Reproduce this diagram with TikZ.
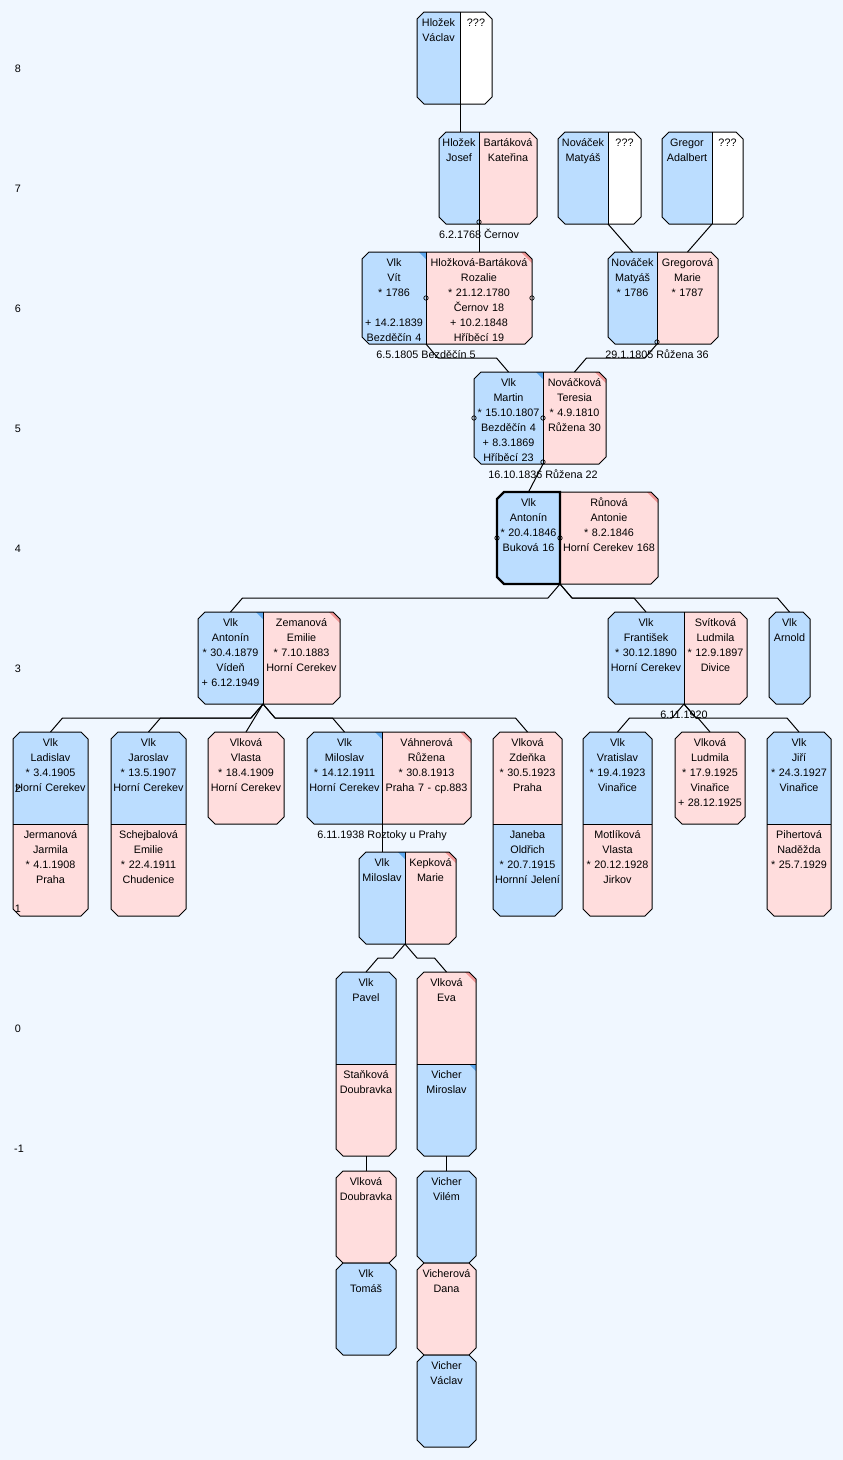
\documentclass[tikz,border=0pt]{standalone}
\usepackage{fontspec}
\setmainfont{Liberation Sans}
\usetikzlibrary{calc}
\definecolor{bgc}{RGB}{240,247,255}
\definecolor{bluec}{RGB}{187,221,255}
\definecolor{pinkc}{RGB}{255,221,221}
\definecolor{mkb}{RGB}{95,168,238}
\definecolor{mkr}{RGB}{240,150,150}
\tikzset{
 oct/.style n args={4}{insert path={(#1+7,#2) -- (#3-7,#2) -- (#3,#2+7) -- (#3,#4-7) -- (#3-7,#4) -- (#1+7,#4) -- (#1,#4-7) -- (#1,#2+7) -- cycle}},
 outl/.style={draw=black, line width=1pt},
 conn/.style={draw=black, line width=1pt},
 person/.style={inner sep=0pt, outer sep=0pt, align=center, text height=14pt, font=\fontsize{10.8}{15}\selectfont, anchor=north west},
 lbl/.style={inner sep=0pt, font=\fontsize{10.8}{15}\selectfont, anchor=base},
 ringmark/.style={draw=black, line width=0.7pt},
}
\newcommand\pcell[7]{\pgfmathsetmacro\cw{#4-#2}\pgfmathsetmacro\cd{#5-#3-14}\node[person, fill=#6, text width=\cw pt, text depth=\cd pt] (#1) at (#2,#3) {#7};}
\newcommand\octbox[5]{\begin{scope}\clip[oct={#1}{#2}{#3}{#4}]; #5 \end{scope}\draw[outl,oct={#1}{#2}{#3}{#4}];}
\newcommand\vdiv[1]{\draw[outl] (#1.north east) -- (#1.south east);}
\newcommand\hdiv[1]{\draw[outl] (#1.south west) -- (#1.south east);}
\newcommand\cornermark[3]{\fill[#2] (#1.north east) -- ++(-#3,0) -- ++(#3,#3) -- cycle;}
\newcommand\kidL[2]{\draw[conn] (#1) -- ++(-12,14) -- ($(#2)+(12,-14)$) -- (#2);}
\newcommand\kidR[2]{\draw[conn] (#1) -- ++(12,14) -- ($(#2)+(-12,-14)$) -- (#2);}
\newcommand\kidS[2]{\draw[conn] (#1) -- (#2);}
\newcommand\ring[1]{\draw[ringmark] (#1) circle[radius=2.2];}
\newcommand\bd{{*}}
\begin{document}
\begin{tikzpicture}[x=1pt,y=-1pt]
\useasboundingbox (0,0) rectangle (843,1460);
\fill[bgc] (0,0) rectangle (843,1460);

% level 8
\octbox{417}{12}{492}{104}{
 \pcell{vaclav}{417}{12}{460}{104}{bluec}{Hložek\\Václav}
 \pcell{unka}{460}{12}{492}{104}{white}{???}
 \vdiv{vaclav}}
% level 7
\octbox{439}{132}{537}{224}{
 \pcell{josef}{439}{132}{479}{224}{bluec}{Hložek\\Josef}
 \pcell{katerina}{479}{132}{537}{224}{pinkc}{Bartáková\\Kateřina}
 \vdiv{josef}}
\octbox{558}{132}{641}{224}{
 \pcell{matyasa}{558}{132}{608}{224}{bluec}{Nováček\\Matyáš}
 \pcell{unkb}{608}{132}{641}{224}{white}{???}
 \vdiv{matyasa}}
\octbox{662}{132}{743}{224}{
 \pcell{adalbert}{662}{132}{712}{224}{bluec}{Gregor\\Adalbert}
 \pcell{unkc}{712}{132}{743}{224}{white}{???}
 \vdiv{adalbert}}
% level 6
\octbox{362}{252}{532}{344}{
 \pcell{vit}{362}{252}{426}{344}{bluec}{Vlk\\Vít\\\bd{} 1786\\[15pt]+ 14.2.1839\\Bezděčín 4}
 \pcell{rozalie}{426}{252}{532}{344}{pinkc}{Hložková-Bartáková\\Rozalie\\\bd{} 21.12.1780\\Černov 18\\+ 10.2.1848\\Hříběcí 19}
 \cornermark{vit}{mkb}{7}\cornermark{rozalie}{mkr}{11}
 \vdiv{vit}}
\octbox{608}{252}{718}{344}{
 \pcell{matyasb}{608}{252}{657}{344}{bluec}{Nováček\\Matyáš\\\bd{} 1786}
 \pcell{marie}{657}{252}{718}{344}{pinkc}{Gregorová\\Marie\\\bd{} 1787}
 \vdiv{matyasb}}
% level 5
\octbox{474}{372}{606}{464}{
 \pcell{martin}{474}{372}{543}{464}{bluec}{Vlk\\Martin\\\bd{} 15.10.1807\\Bezděčín 4\\+ 8.3.1869\\Hříběcí 23}
 \pcell{teresia}{543}{372}{606}{464}{pinkc}{Nováčková\\Teresia\\\bd{} 4.9.1810\\Růžena 30}
 \cornermark{martin}{mkb}{7}\cornermark{teresia}{mkr}{11}
 \vdiv{martin}}
% level 4
\octbox{497}{492}{658}{584}{
 \pcell{antonina}{497}{492}{560}{584}{bluec}{Vlk\\Antonín\\\bd{} 20.4.1846\\Buková 16}
 \pcell{runova}{560}{492}{658}{584}{pinkc}{Růnová\\Antonie\\\bd{} 8.2.1846\\Horní Cerekev 168}
 \cornermark{runova}{mkr}{11}
 \vdiv{antonina}}
\draw[line width=2.2pt, line join=miter] (antonina.north east) -- (504,492) -- (497,499) -- (497,577) -- (504,584) -- (antonina.south east) -- cycle;
% level 3
\octbox{198}{612}{340}{704}{
 \pcell{antoninb}{198}{612}{263}{704}{bluec}{Vlk\\Antonín\\\bd{} 30.4.1879\\Vídeň\\+ 6.12.1949}
 \pcell{zemanova}{263}{612}{340}{704}{pinkc}{Zemanová\\Emilie\\\bd{} 7.10.1883\\Horní Cerekev}
 \cornermark{antoninb}{mkb}{7}\cornermark{zemanova}{mkr}{11}
 \vdiv{antoninb}}
\octbox{608}{612}{747}{704}{
 \pcell{frantisek}{608}{612}{684}{704}{bluec}{Vlk\\František\\\bd{} 30.12.1890\\Horní Cerekev}
 \pcell{svitkova}{684}{612}{747}{704}{pinkc}{Svítková\\Ludmila\\\bd{} 12.9.1897\\Divice}
 \vdiv{frantisek}}
\octbox{769}{612}{810}{704}{
 \pcell{arnold}{769}{612}{810}{704}{bluec}{Vlk\\Arnold}}
% level 2
\octbox{13}{732}{88}{916}{
 \pcell{ladislav}{13}{732}{88}{824}{bluec}{Vlk\\Ladislav\\\bd{} 3.4.1905\\Horní Cerekev}
 \pcell{jermanova}{13}{824}{88}{916}{pinkc}{Jermanová\\Jarmila\\\bd{} 4.1.1908\\Praha}
 \hdiv{ladislav}}
\octbox{111}{732}{186}{916}{
 \pcell{jaroslav}{111}{732}{186}{824}{bluec}{Vlk\\Jaroslav\\\bd{} 13.5.1907\\Horní Cerekev}
 \pcell{schejbalova}{111}{824}{186}{916}{pinkc}{Schejbalová\\Emilie\\\bd{} 22.4.1911\\Chudenice}
 \hdiv{jaroslav}}
\octbox{208}{732}{284}{824}{
 \pcell{vlasta}{208}{732}{284}{824}{pinkc}{Vlková\\Vlasta\\\bd{} 18.4.1909\\Horní Cerekev}}
\octbox{307}{732}{471}{824}{
 \pcell{miloslava}{307}{732}{382}{824}{bluec}{Vlk\\Miloslav\\\bd{} 14.12.1911\\Horní Cerekev}
 \pcell{vahnerova}{382}{732}{471}{824}{pinkc}{Váhnerová\\Růžena\\\bd{} 30.8.1913\\Praha 7 - cp.883}
 \cornermark{miloslava}{mkb}{7}\cornermark{vahnerova}{mkr}{11}
 \vdiv{miloslava}}
\octbox{493}{732}{562}{916}{
 \pcell{zdenka}{493}{732}{562}{824}{pinkc}{Vlková\\Zdeňka\\\bd{} 30.5.1923\\Praha}
 \pcell{janeba}{493}{824}{562}{916}{bluec}{Janeba\\Oldřich\\\bd{} 20.7.1915\\Hornní Jelení}
 \hdiv{zdenka}}
\octbox{583}{732}{652}{916}{
 \pcell{vratislav}{583}{732}{652}{824}{bluec}{Vlk\\Vratislav\\\bd{} 19.4.1923\\Vinařice}
 \pcell{motlikova}{583}{824}{652}{916}{pinkc}{Motlíková\\Vlasta\\\bd{} 20.12.1928\\Jirkov}
 \hdiv{vratislav}}
\octbox{675}{732}{745}{824}{
 \pcell{ludmila}{675}{732}{745}{824}{pinkc}{Vlková\\Ludmila\\\bd{} 17.9.1925\\Vinařice\\+ 28.12.1925}}
\octbox{767}{732}{831}{916}{
 \pcell{jiri}{767}{732}{831}{824}{bluec}{Vlk\\Jiří\\\bd{} 24.3.1927\\Vinařice}
 \pcell{pihertova}{767}{824}{831}{916}{pinkc}{Pihertová\\Naděžda\\\bd{} 25.7.1929}
 \hdiv{jiri}}
% level 1
\octbox{359}{852}{456}{944}{
 \pcell{miloslavb}{359}{852}{405}{944}{bluec}{Vlk\\Miloslav}
 \pcell{kepkova}{405}{852}{456}{944}{pinkc}{Kepková\\Marie}
 \cornermark{miloslavb}{mkb}{7}\cornermark{kepkova}{mkr}{11}
 \vdiv{miloslavb}}
% level 0
\octbox{336}{972}{396}{1156}{
 \pcell{pavel}{336}{972}{396}{1064}{bluec}{Vlk\\Pavel}
 \pcell{stankova}{336}{1064}{396}{1156}{pinkc}{Staňková\\Doubravka}
 \hdiv{pavel}}
\octbox{417}{972}{476}{1156}{
 \pcell{eva}{417}{972}{476}{1064}{pinkc}{Vlková\\Eva}
 \pcell{vicherm}{417}{1064}{476}{1156}{bluec}{Vicher\\Miroslav}
 \cornermark{eva}{mkr}{11}\cornermark{vicherm}{mkb}{7}
 \hdiv{eva}}
% level -1
\octbox{336}{1171}{396}{1263}{
 \pcell{doubravka}{336}{1171}{396}{1263}{pinkc}{Vlková\\Doubravka}}
\octbox{336}{1263}{396}{1355}{
 \pcell{tomas}{336}{1263}{396}{1355}{bluec}{Vlk\\Tomáš}}
\octbox{417}{1171}{476}{1263}{
 \pcell{vilem}{417}{1171}{476}{1263}{bluec}{Vicher\\Vilém}}
\octbox{417}{1263}{476}{1355}{
 \pcell{dana}{417}{1263}{476}{1355}{pinkc}{Vicherová\\Dana}}
\octbox{417}{1355}{476}{1447}{
 \pcell{vaclavb}{417}{1355}{476}{1447}{bluec}{Vicher\\Václav}}

% connectors
\kidS{vaclav.south east}{vaclav.south east |- josef.north}
\kidS{josef.south east}{rozalie.north}
\kidS{unkb.south west}{matyasb.north}
\kidS{unkc.south west}{marie.north}
\kidR{vit.south east}{martin.north}
\kidL{matyasb.south east}{teresia.north}
\kidS{martin.south east}{antonina.north}
\kidL{antonina.south east}{antoninb.north}
\kidR{antonina.south east}{frantisek.north}
\kidR{antonina.south east}{arnold.north}
\kidL{antoninb.south east}{ladislav.north}
\kidL{antoninb.south east}{jaroslav.north}
\kidS{antoninb.south east}{vlasta.north}
\kidR{antoninb.south east}{miloslava.north}
\kidR{antoninb.south east}{zdenka.north}
\kidL{frantisek.south east}{vratislav.north}
\kidR{frantisek.south east}{ludmila.north}
\kidR{frantisek.south east}{jiri.north}
\kidS{miloslava.south east}{miloslavb.north}
\kidL{miloslavb.south east}{pavel.north}
\kidR{miloslavb.south east}{eva.north}
\kidS{stankova.south}{doubravka.north}
\kidS{vicherm.south}{vilem.north}

% ring marks
\ring{vit.east}\ring{rozalie.east}
\ring{martin.west}\ring{martin.east}
\ring{antonina.west}\ring{antonina.east}
\ring{$(josef.south east)+(0,-2)$}
\ring{$(matyasb.south east)+(0,-2)$}
\ring{$(martin.south east)+(0,-2)$}

% marriage labels
\node[lbl] (ma) at (479,238) {6.2.1768 Černov};
\node[lbl] (mb) at (426,358) {6.5.1805 Bezděčín 5};
\node[lbl] (mc) at (657,358) {29.1.1805 Růžena 36};
\node[lbl] (md) at (543,478) {16.10.1836 Růžena 22};
\node[lbl] (me) at (684,718) {6.11.1920};
\node[lbl] (mf) at (382,838) {6.11.1938 Roztoky u Prahy};

% level labels
\node[lbl] (lva) at (18,72) {8};
\node[lbl] (lvb) at (18,192) {7};
\node[lbl] (lvc) at (18,312) {6};
\node[lbl] (lvd) at (18,432) {5};
\node[lbl] (lve) at (18,552) {4};
\node[lbl] (lvf) at (18,672) {3};
\node[lbl] (lvg) at (18,792) {2};
\node[lbl] (lvh) at (18,912) {1};
\node[lbl] (lvi) at (18,1032) {0};
\node[lbl] (lvj) at (19,1152) {-1};
\end{tikzpicture}
\end{document}
